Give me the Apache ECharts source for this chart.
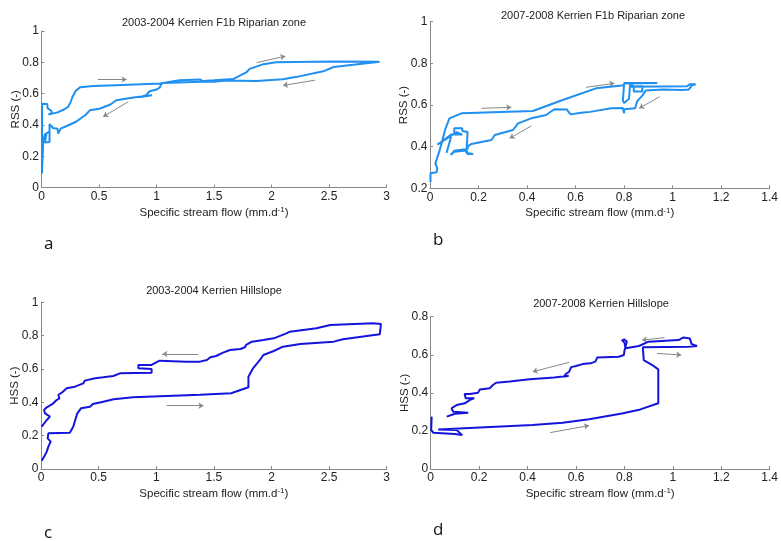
<!DOCTYPE html>
<html>
<head>
<meta charset="utf-8">
<script src="https://cdn.jsdelivr.net/npm/echarts@6/dist/echarts.min.js"></script>
<style>
  html, body { margin: 0; padding: 0; background: #fff; }
  #chart { width: 781px; height: 541px; }
</style>
</head>
<body>
<div id="chart"></div>
<script>
// panel a: RSS vs flow, 2003-2004
const rssA = [
  [0.005, 0.09], [0.005, 0.535], [0.05, 0.533], [0.054, 0.505], [0.087, 0.49], [0.087, 0.473],
  [0.06, 0.467], [0.14, 0.48], [0.2, 0.5], [0.23, 0.515], [0.25, 0.54], [0.27, 0.58],
  [0.3, 0.62], [0.335, 0.64], [0.45, 0.648], [0.65, 0.654], [1.03, 0.665], [1.2, 0.685],
  [1.38, 0.69], [1.4, 0.68], [1.5, 0.685], [1.67, 0.694], [1.78, 0.735], [1.81, 0.758],
  [1.93, 0.788], [2.04, 0.8], [2.54, 0.805], [2.94, 0.803], [2.54, 0.77], [2.46, 0.745],
  [2.22, 0.707], [2.1, 0.692], [1.87, 0.68], [1.6, 0.683], [1.5, 0.675], [1.45, 0.678],
  [1.06, 0.668], [1.04, 0.66], [1.03, 0.64], [1.0, 0.626], [0.94, 0.615], [0.91, 0.59],
  [0.86, 0.578], [0.96, 0.59], [0.96, 0.582], [0.8, 0.575], [0.65, 0.558], [0.6, 0.53],
  [0.51, 0.505], [0.42, 0.493], [0.385, 0.465], [0.3, 0.42], [0.22, 0.393], [0.17, 0.378],
  [0.155, 0.36], [0.145, 0.345], [0.14, 0.375], [0.1, 0.38], [0.07, 0.405], [0.07, 0.29],
  [0.03, 0.287], [0.043, 0.346], [0.075, 0.36], [0.03, 0.34], [0.015, 0.3], [0.006, 0.13]
];
// panel b: RSS vs flow, 2007-2008
const rssB = [
  [0.002, 0.23], [0.002, 0.272], [0.027, 0.277], [0.03, 0.296], [0.022, 0.32], [0.038, 0.376],
  [0.048, 0.416], [0.062, 0.48], [0.08, 0.536], [0.13, 0.56], [0.424, 0.571], [0.547, 0.624],
  [0.684, 0.68], [0.8, 0.695], [0.8, 0.706], [0.937, 0.706], [0.8, 0.703], [0.795, 0.62],
  [0.8, 0.61], [0.82, 0.63], [0.825, 0.7], [0.84, 0.69], [0.84, 0.665], [0.875, 0.665],
  [0.875, 0.69], [0.82, 0.688], [1.06, 0.69], [1.07, 0.7], [1.095, 0.7], [1.08, 0.695],
  [1.067, 0.675], [1.04, 0.672], [0.96, 0.675], [0.89, 0.67], [0.875, 0.645], [0.855, 0.62],
  [0.845, 0.584], [0.8, 0.58], [0.8, 0.56], [0.795, 0.585], [0.746, 0.584], [0.69, 0.573],
  [0.66, 0.567], [0.623, 0.563], [0.58, 0.555], [0.57, 0.568], [0.565, 0.578], [0.513, 0.579],
  [0.5, 0.57], [0.479, 0.552], [0.417, 0.536], [0.363, 0.512], [0.342, 0.48], [0.267, 0.456],
  [0.253, 0.432], [0.171, 0.413], [0.157, 0.403], [0.155, 0.39], [0.13, 0.385], [0.1, 0.38],
  [0.085, 0.36], [0.1, 0.375], [0.15, 0.382], [0.155, 0.365], [0.178, 0.365], [0.15, 0.37],
  [0.155, 0.47], [0.133, 0.475], [0.133, 0.488], [0.1, 0.488], [0.1, 0.458], [0.133, 0.458],
  [0.11, 0.47], [0.03, 0.41], [0.042, 0.418], [0.09, 0.46], [0.068, 0.37]
];
// panel c: HSS vs flow, 2003-2004
const hssC = [
  [0.006, 0.05], [0.035, 0.084], [0.05, 0.104], [0.064, 0.134], [0.084, 0.164], [0.058, 0.184],
  [0.064, 0.214], [0.25, 0.218], [0.28, 0.254], [0.315, 0.334], [0.347, 0.364], [0.425, 0.374],
  [0.45, 0.39], [0.54, 0.404], [0.63, 0.418], [0.8, 0.43], [1.09, 0.438], [1.38, 0.446],
  [1.65, 0.454], [1.8, 0.49], [1.8, 0.554], [1.84, 0.604], [1.9, 0.654], [1.93, 0.684],
  [2.02, 0.708], [2.1, 0.734], [2.25, 0.75], [2.54, 0.764], [2.62, 0.778], [2.94, 0.808],
  [2.95, 0.87], [2.88, 0.874], [2.51, 0.864], [2.39, 0.844], [2.16, 0.824], [2.13, 0.814],
  [2.02, 0.784], [1.93, 0.774], [1.83, 0.764], [1.78, 0.744], [1.77, 0.73], [1.73, 0.72],
  [1.64, 0.714], [1.58, 0.698], [1.52, 0.678], [1.47, 0.67], [1.44, 0.654], [1.38, 0.644],
  [1.26, 0.644], [1.03, 0.65], [1.0, 0.64], [0.96, 0.624], [0.845, 0.624], [0.845, 0.604],
  [0.96, 0.6], [0.96, 0.578], [0.685, 0.574], [0.628, 0.558], [0.54, 0.55], [0.47, 0.544],
  [0.38, 0.53], [0.367, 0.514], [0.295, 0.494], [0.223, 0.484], [0.18, 0.458], [0.15, 0.444],
  [0.16, 0.424], [0.136, 0.414], [0.1, 0.39], [0.05, 0.37], [0.026, 0.354], [0.035, 0.334],
  [0.078, 0.314], [0.05, 0.294], [0.006, 0.254]
];
// panel d: HSS vs flow, 2007-2008
const hssD = [
  [0.004, 0.275], [0.002, 0.205], [0.011, 0.19], [0.1, 0.184], [0.13, 0.178], [0.107, 0.205],
  [0.031, 0.208], [0.42, 0.231], [0.545, 0.243], [0.654, 0.261], [0.79, 0.292], [0.866, 0.313],
  [0.94, 0.345], [0.94, 0.523], [0.915, 0.546], [0.88, 0.572], [0.876, 0.639], [1.065, 0.642],
  [1.1, 0.646], [1.078, 0.656], [1.07, 0.686], [1.044, 0.691], [1.024, 0.677], [0.9, 0.669],
  [0.86, 0.646], [0.805, 0.634], [0.8, 0.664], [0.79, 0.677], [0.8, 0.68], [0.81, 0.67],
  [0.8, 0.62], [0.798, 0.599], [0.777, 0.59], [0.688, 0.586], [0.68, 0.564], [0.66, 0.555],
  [0.627, 0.551], [0.6, 0.541], [0.58, 0.535], [0.572, 0.511], [0.558, 0.499], [0.55, 0.485],
  [0.57, 0.49], [0.51, 0.481], [0.408, 0.471], [0.326, 0.459], [0.27, 0.453], [0.257, 0.441],
  [0.244, 0.424], [0.203, 0.418], [0.196, 0.401], [0.161, 0.394], [0.14, 0.394], [0.145, 0.371],
  [0.18, 0.372], [0.161, 0.362], [0.141, 0.345], [0.107, 0.336], [0.086, 0.319], [0.093, 0.301],
  [0.155, 0.296], [0.1, 0.29], [0.066, 0.275]
];

// direction arrows [[x1, y1], [x2, y2]]
const arrowsA = [
  [[0.49, 0.69], [0.74, 0.69]], [[1.87, 0.798], [2.12, 0.839]],
  [[2.38, 0.686], [2.1, 0.652]], [[0.754, 0.548], [0.536, 0.452]]
];
const arrowsB = [
  [[0.212, 0.584], [0.335, 0.589]], [[0.643, 0.685], [0.76, 0.704]],
  [[0.947, 0.64], [0.862, 0.584]], [[0.417, 0.499], [0.328, 0.44]]
];
const arrowsC = [
  [[1.365, 0.69], [1.053, 0.69]], [[1.09, 0.38], [1.41, 0.38]]
];
const arrowsD = [
  [[0.966, 0.69], [0.873, 0.677]], [[0.935, 0.607], [1.035, 0.599]],
  [[0.572, 0.56], [0.421, 0.511]], [[0.493, 0.191], [0.654, 0.228]]
];

const titles = [
  '2003-2004 Kerrien F1b Riparian zone',
  '2007-2008 Kerrien F1b Riparian zone',
  '2003-2004 Kerrien Hillslope',
  '2007-2008 Kerrien Hillslope'
];
const panelLetters = ['a', 'b', 'c', 'd'];
const yNames = ['RSS (-)', 'RSS (-)', 'HSS (-)', 'HSS (-)'];

const font = 'Liberation Sans, Arial, sans-serif';
const lightBlue = '#1f8ff0';
const darkBlue = '#1414dc';

const grids = [
  { left: 41.5, top: 31, right: 394.5, bottom: 353.5 },
  { left: 430, top: 21.7, right: 10, bottom: 352.7 },
  { left: 41, top: 302.3, right: 394.3, bottom: 72 },
  { left: 430.7, top: 316.7, right: 9.3, bottom: 72 }
];

const xRanges = [[0, 3, 0.5], [0, 1.4, 0.2], [0, 3, 0.5], [0, 1.4, 0.2]];
const yRanges = [[0, 1, 0.2], [0.2, 1, 0.2], [0, 1, 0.2], [0, 0.8, 0.2]];

function xAxis(i) {
  return {
    type: 'value', gridIndex: i,
    min: xRanges[i][0], max: xRanges[i][1], interval: xRanges[i][2],
    name: 'Specific stream flow (mm.d{sup|-1})',
    nameLocation: 'middle', nameGap: 18,
    nameTextStyle: {
      fontFamily: font, fontSize: 11.5, color: '#222',
      rich: { sup: { fontSize: 8, verticalAlign: 'top', padding: [0, 0, 6, 0], fontFamily: font, color: '#222' } }
    },
    axisLine: { show: true, lineStyle: { color: '#888', width: 1 } },
    axisTick: { show: true, inside: true, length: 3, lineStyle: { color: '#888' } },
    axisLabel: { margin: 3, fontFamily: font, fontSize: 12, color: '#222' },
    splitLine: { show: false }
  };
}

function yAxis(i) {
  return {
    type: 'value', gridIndex: i,
    min: yRanges[i][0], max: yRanges[i][1], interval: yRanges[i][2],
    name: yNames[i], nameLocation: 'middle', nameGap: 20, nameMoveOverlap: false,
    nameTextStyle: { fontFamily: font, fontSize: 11.5, color: '#222' },
    axisLine: { show: true, lineStyle: { color: '#888', width: 1 } },
    axisTick: { show: true, inside: true, length: 3, lineStyle: { color: '#888' } },
    axisLabel: { margin: 2.5, fontFamily: font, fontSize: 12, color: '#222' },
    splitLine: { show: false }
  };
}

function curve(i, data, color) {
  return {
    type: 'line', xAxisIndex: i, yAxisIndex: i, data: data,
    showSymbol: false, symbol: 'none', animation: false, silent: true,
    lineStyle: { color: color, width: 2 }
  };
}

function arrows(i, list) {
  return {
    type: 'lines', coordinateSystem: 'cartesian2d', xAxisIndex: i, yAxisIndex: i,
    symbol: ['none', 'arrow'], symbolSize: 5, animation: false, silent: true,
    lineStyle: { color: '#888', width: 1, opacity: 1 },
    itemStyle: { color: '#333' },
    data: list.map(c => ({ coords: c }))
  };
}

const titlePos = [[214, 17.5], [593, 10], [214, 285.5], [601, 298.5]];
const letterPos = [[44, 236], [433, 232], [44, 525], [433, 522]];

const chart = echarts.init(document.getElementById('chart'), null, { renderer: 'canvas' });
chart.setOption({
  backgroundColor: '#fff',
  animation: false,
  title: titles.map((t, i) => ({
    text: t, left: titlePos[i][0], top: titlePos[i][1], textAlign: 'center', padding: 0,
    textStyle: { fontFamily: font, fontSize: 11, fontWeight: 'normal', color: '#222' }
  })),
  grid: grids,
  xAxis: [0, 1, 2, 3].map(xAxis),
  yAxis: [0, 1, 2, 3].map(yAxis),
  series: [
    curve(0, rssA, lightBlue),
    curve(1, rssB, lightBlue),
    curve(2, hssC, darkBlue),
    curve(3, hssD, darkBlue),
    arrows(0, arrowsA),
    arrows(1, arrowsB),
    arrows(2, arrowsC),
    arrows(3, arrowsD)
  ],
  graphic: panelLetters.map((l, i) => ({
    type: 'text', left: letterPos[i][0], top: letterPos[i][1],
    style: { text: l, font: '17px "Open Sans", sans-serif', fill: '#111' }
  }))
});
</script>
</body>
</html>
